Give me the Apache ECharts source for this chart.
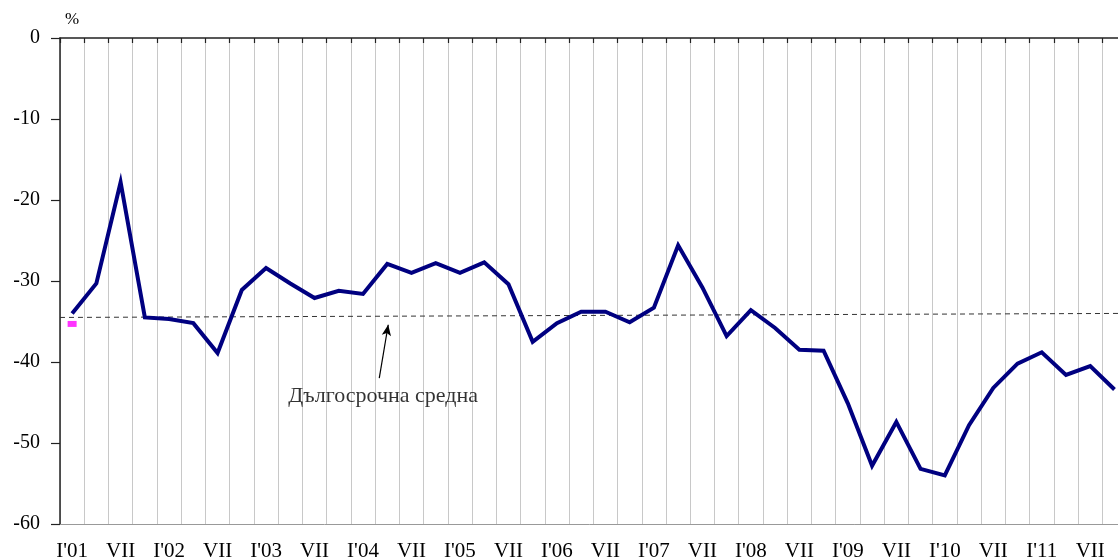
<!DOCTYPE html>
<html>
<head>
<meta charset="utf-8">
<script src="https://cdn.jsdelivr.net/npm/echarts@6/dist/echarts.min.js"></script>
<style>
    html, body { margin: 0; padding: 0; background: #fff; overflow: hidden; }
    #chart { width: 1118px; height: 558px; }
</style>
</head>
<body>
<div id="chart"></div>
<script>
// тримесечия 2001 - 2011
const quarters = [
    "I'01", 'IV', 'VII', 'X', "I'02", 'IV', 'VII', 'X', "I'03", 'IV', 'VII', 'X',
    "I'04", 'IV', 'VII', 'X', "I'05", 'IV', 'VII', 'X', "I'06", 'IV', 'VII', 'X',
    "I'07", 'IV', 'VII', 'X', "I'08", 'IV', 'VII', 'X', "I'09", 'IV', 'VII', 'X',
    "I'10", 'IV', 'VII', 'X', "I'11", 'IV', 'VII', 'X'
];

// баланс на мненията, %
const values = [
    -34.0, -30.3, -17.8, -34.5, -34.7, -35.2, -38.9, -31.1, -28.4, -30.3, -32.1, -31.2,
    -31.6, -27.9, -29.0, -27.8, -29.0, -27.7, -30.4, -37.5, -35.2, -33.8, -33.8, -35.1,
    -33.3, -25.6, -30.8, -36.8, -33.6, -35.8, -38.5, -38.6, -45.1, -52.8, -47.4, -53.2,
    -54.0, -47.8, -43.2, -40.2, -38.8, -41.6, -40.5, -43.4
];

// дългосрочна средна (начало, край)
const avgLine = [[0, -34.5], [44, -34.0]];

// малкият розов маркер в началото
const pinkMark = [[0, -35.3]];

// стрелка и надпис
const arrowFrom = [13.17, -42.0];
const arrowTo = [13.54, -35.4];
const noteAt = [13.33, -44.2];
const noteText = 'Дългосрочна средна';

const yTicks = { min: -60, max: 0, step: 10 };

let myChart = echarts.init(document.getElementById('chart'));
const font = 'Liberation Serif';

let option = {
    animation: false,
    backgroundColor: '#fff',
    grid: {     // последното тримесечие е частично отрязано вдясно
        left: 60,
        top: 38,
        bottom: 34,
        width: 1066.6,
        containLabel: false,
        outerBoundsMode: 'none'
    },
    xAxis: [
        {   // горната ос при 0, с чертички навътре и вертикална мрежа
            type: 'category',
            position: 'top',
            data: quarters,
            boundaryGap: true,
            axisLine: { show: true, lineStyle: { color: '#222', width: 1.5 } },
            axisTick: { show: true, inside: true, length: 5, interval: 0, lineStyle: { color: '#222', width: 1.2 } },
            axisLabel: { show: false },
            splitLine: { show: true, interval: 0, lineStyle: { color: '#c8c8c8', width: 1 } }
        },
        {   // долната ос с надписите
            type: 'category',
            position: 'bottom',
            data: quarters,
            boundaryGap: true,
            axisLine: { show: true, lineStyle: { color: '#999', width: 1 } },
            axisTick: { show: false },
            axisLabel: {
                interval: 1,
                color: '#000',
                fontFamily: font,
                fontSize: 21,
                margin: 17
            },
            splitLine: { show: false }
        },
        {   // скрита числова ос за средната и анотацията
            type: 'value',
            position: 'bottom',
            min: 0,
            max: 44,
            show: false
        }
    ],
    yAxis: {
        type: 'value',
        min: yTicks.min,
        max: yTicks.max,
        interval: yTicks.step,
        name: '%',
        nameLocation: 'end',
        nameGap: 10,
        nameTextStyle: {
            color: '#000',
            fontFamily: font,
            fontSize: 17,
            align: 'left',
            padding: [0, 0, 0, 5]
        },
        axisLine: { show: true, lineStyle: { color: '#222', width: 1.5 } },
        axisTick: { show: true, length: 9, lineStyle: { color: '#222', width: 1.2 } },
        axisLabel: {
            color: '#000',
            fontFamily: font,
            fontSize: 20,
            margin: 20
        },
        splitLine: { show: false }
    },
    series: [
        {
            name: 'средна',
            type: 'line',
            xAxisIndex: 2,
            data: avgLine,
            symbol: 'none',
            silent: true,
            lineStyle: { color: '#333', width: 1, type: [5, 4] },
            z: 2
        },
        {
            name: 'маркер',
            type: 'scatter',
            xAxisIndex: 0,
            data: pinkMark,
            symbol: 'rect',
            symbolSize: [9, 6],
            itemStyle: { color: '#ff00ff' },
            z: 3
        },
        {
            name: 'баланс',
            type: 'line',
            xAxisIndex: 1,
            data: values,
            symbol: 'none',
            lineStyle: { color: '#000080', width: 4, join: 'miter' },
            z: 4
        },
        {
            name: 'надпис',
            type: 'scatter',
            xAxisIndex: 2,
            data: [noteAt],
            symbolSize: 0,
            label: {
                show: true,
                position: 'inside',
                formatter: noteText,
                color: '#000',
                fontFamily: font,
                fontSize: 22
            },
            markLine: {
                silent: true,
                symbol: ['none', 'arrow'],
                symbolSize: [7, 11],
                label: { show: false },
                lineStyle: { color: '#000', width: 1.2, type: 'solid' },
                data: [[{ coord: arrowFrom }, { coord: arrowTo }]]
            },
            z: 5
        }
    ]
};

myChart.setOption(option);
</script>
</body>
</html>
